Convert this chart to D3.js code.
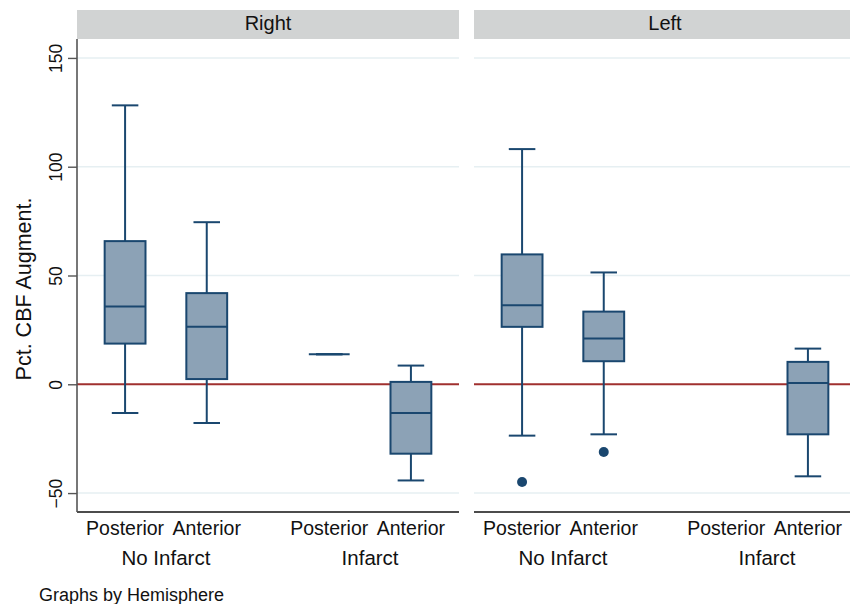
<!DOCTYPE html>
<html>
<head>
<meta charset="utf-8">
<script src="https://cdn.jsdelivr.net/npm/d3@7"></script>
<style>
  body { margin: 0; background: #fff; }
  text { font-family: "Liberation Sans", Arial, Helvetica, sans-serif; fill: #111; }
</style>
</head>
<body>
<div id="chart"></div>
<script>
// panels, groups and sites
const hemispheres = ["Right", "Left"];
const groups = ["No Infarct", "Infarct"];
const sites = ["Posterior", "Anterior"];

// box statistics, one entry per hemisphere x group x site (null = no data)
const boxHemi   = ["Right", "Right", "Right", "Right", "Left", "Left", "Left", "Left"];
const boxGroup  = ["No Infarct", "No Infarct", "Infarct", "Infarct", "No Infarct", "No Infarct", "Infarct", "Infarct"];
const boxSite   = ["Posterior", "Anterior", "Posterior", "Anterior", "Posterior", "Anterior", "Posterior", "Anterior"];
const whiskLo   = [-13.2, -17.8, 13.8, -44.2, -23.6, -23.0, null, -42.3];
const q1        = [18.7, 2.4, 13.8, -31.9, 26.4, 10.6, null, -23.0];
const medians   = [35.7, 26.4, 13.8, -13.2, 36.3, 21.0, null, 0.6];
const q3        = [65.8, 41.9, 13.8, 1.1, 59.7, 33.4, null, 10.3];
const whiskHi   = [128.2, 74.5, 13.8, 8.6, 108.1, 51.4, null, 16.4];
const outliers  = [[], [], [], [], [-44.9], [-31.1], [], []];

const yTicks = [-50, 0, 50, 100, 150];
const gridTicks = [-50, 50, 100, 150];
const yTitle = "Pct. CBF Augment.";
const note = "Graphs by Hemisphere";

const W = 850, H = 604;
const panelW = 382, panelX = [77, 474];
const plotTop = 39, plotBottom = 512;

const svg = d3.select("#chart").append("svg")
    .attr("width", W)
    .attr("height", H);

const y = d3.scaleLinear().domain([-58.7, 158.7]).range([plotBottom, plotTop]);

const xGroup = d3.scaleBand().domain(groups).range([0, panelW])
    .paddingInner(0.2).paddingOuter(0.0355);
const xSite = d3.scaleBand().domain(sites).range([0, xGroup.bandwidth()]).padding(0);
const boxW = xSite.bandwidth() * 0.5;
const capW = boxW * 0.65;

const navy = "#1a476f", fillC = "#8ca2b6";

hemispheres.forEach((hemi, pi) => {
    const g = svg.append("g").attr("transform", `translate(${panelX[pi]},0)`);

    // strip header
    g.append("rect").attr("x", 0).attr("y", 10).attr("width", panelW).attr("height", plotTop - 10)
        .attr("fill", "#d1d3d3");
    g.append("text").attr("x", panelW / 2).attr("y", 29.5).attr("text-anchor", "middle")
        .attr("font-size", "20px").text(hemi);

    // grid
    g.selectAll(".grid").data(gridTicks).enter().append("line")
        .attr("x1", 0).attr("x2", panelW)
        .attr("y1", d => y(d)).attr("y2", d => y(d))
        .attr("stroke", "#e6eff2").attr("stroke-width", 1.6);

    // zero reference line
    g.append("line").attr("x1", 0).attr("x2", panelW).attr("y1", y(0)).attr("y2", y(0))
        .attr("stroke", "#a0302f").attr("stroke-width", 2);

    // bottom axis line
    g.append("line").attr("x1", 0).attr("x2", panelW).attr("y1", plotBottom).attr("y2", plotBottom)
        .attr("stroke", "#111").attr("stroke-width", 1.6);

    // boxes
    boxHemi.forEach((h, i) => {
        if (h !== hemi || medians[i] === null) return;
        const cx = xGroup(boxGroup[i]) + xSite(boxSite[i]) + xSite.bandwidth() / 2;
        const b = g.append("g");
        // whiskers
        b.append("line").attr("x1", cx).attr("x2", cx).attr("y1", y(q3[i])).attr("y2", y(whiskHi[i]))
            .attr("stroke", navy).attr("stroke-width", 2);
        b.append("line").attr("x1", cx).attr("x2", cx).attr("y1", y(q1[i])).attr("y2", y(whiskLo[i]))
            .attr("stroke", navy).attr("stroke-width", 2);
        [whiskHi[i], whiskLo[i]].forEach(v => {
            b.append("line").attr("x1", cx - capW / 2).attr("x2", cx + capW / 2)
                .attr("y1", y(v)).attr("y2", y(v))
                .attr("stroke", navy).attr("stroke-width", 2);
        });
        // box
        if (q3[i] !== q1[i]) {
            b.append("rect").attr("x", cx - boxW / 2).attr("y", y(q3[i]))
                .attr("width", boxW).attr("height", y(q1[i]) - y(q3[i]))
                .attr("fill", fillC).attr("stroke", navy).attr("stroke-width", 2);
        }
        b.append("line").attr("x1", cx - boxW / 2).attr("x2", cx + boxW / 2)
            .attr("y1", y(medians[i])).attr("y2", y(medians[i]))
            .attr("stroke", navy).attr("stroke-width", 2);
        // outside values
        outliers[i].forEach(v => {
            b.append("circle").attr("cx", cx).attr("cy", y(v)).attr("r", 5).attr("fill", navy);
        });
    });

    // category labels
    groups.forEach(gr => {
        sites.forEach(s => {
            g.append("text")
                .attr("x", xGroup(gr) + xSite(s) + xSite.bandwidth() / 2)
                .attr("y", 535).attr("text-anchor", "middle").attr("font-size", "19.5px")
                .text(s);
        });
        g.append("text")
            .attr("x", xGroup(gr) + xGroup.bandwidth() / 2)
            .attr("y", 565).attr("text-anchor", "middle").attr("font-size", "20.5px")
            .text(gr);
    });
});

// y axis on the first panel
const yAxis = svg.append("g").attr("transform", `translate(${panelX[0]},0)`)
    .call(d3.axisLeft(y).tickValues(yTicks).tickSize(9).tickFormat(d => d < 0 ? "\u2212" + Math.abs(d) : d));
yAxis.select(".domain").attr("d", `M0,${plotTop}V${plotBottom}`).attr("stroke", "#555").attr("stroke-width", 1.6);
yAxis.selectAll(".tick line").attr("stroke", "#555").attr("stroke-width", 1.4);
yAxis.selectAll(".tick text")
    .attr("font-size", "17.5px").attr("font-family", "Liberation Sans, Arial, sans-serif")
    .attr("fill", "#111")
    .attr("x", null).attr("dy", null)
    .attr("text-anchor", "middle")
    .attr("transform", "translate(-15.5,0) rotate(-90)");

svg.append("text")
    .attr("transform", `translate(31,289) rotate(-90)`)
    .attr("text-anchor", "middle").attr("font-size", "21.5px")
    .text(yTitle);

svg.append("text").attr("x", 39).attr("y", 600.5).attr("font-size", "18px").text(note);
</script>
</body>
</html>
